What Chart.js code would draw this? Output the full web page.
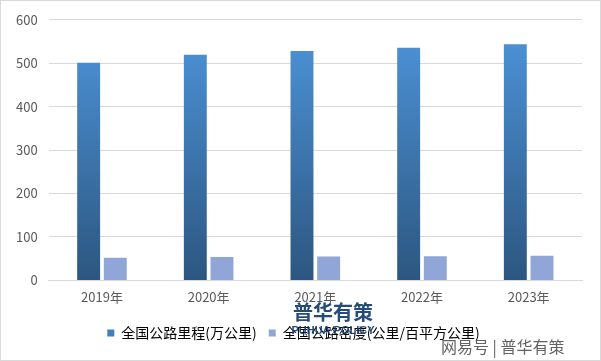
<!DOCTYPE html>
<html>
<head>
<meta charset="utf-8">
<script src="https://cdn.jsdelivr.net/npm/chart.js@4/dist/chart.umd.min.js"></script>
<style>
  html, body { margin: 0; padding: 0; background: #fff; }
  #wrap { width: 599px; height: 359px; border: 1px solid #d9d9d9; position: relative; }
</style>
</head>
<body>
<div id="wrap"><canvas id="roadChart" width="599" height="359"></canvas></div>
<script>
const years = ['2019年', '2020年', '2021年', '2022年', '2023年'];
const mileage = [501.25, 519.81, 528.07, 535.48, 543.68];
const density = [52.21, 54.15, 55.01, 55.78, 56.63];
const yTicks = [0, 100, 200, 300, 400, 500, 600];

const fontFamily = '"Noto Sans CJK SC", "Microsoft YaHei", sans-serif';

// watermark text drawn over the chart
const watermark = {
    id: 'watermark',
    afterDraw(chart) {
        const c = chart.ctx;
        c.save();
        c.textAlign = 'center';
        c.fillStyle = 'rgba(20, 60, 110, 0.92)';
        c.font = 'bold 20px ' + fontFamily;
        c.fillText('普华有策', 332, 311);
        c.font = 'bold 11px "Liberation Sans", sans-serif';
        c.fillText('PUHUA POLICY', 332, 330);
        c.textAlign = 'left';
        c.fillStyle = 'rgba(70, 70, 70, 0.85)';
        c.font = '16px ' + fontFamily;
        c.fillText('网易号 | 普华有策', 440, 346);
        c.restore();
    }
};

function darkGradient(context) {
    const area = context.chart.chartArea;
    if (!area) return '#3f7fc0';
    const g = context.chart.ctx.createLinearGradient(0, area.top, 0, area.bottom);
    g.addColorStop(0, '#4e96dc');
    g.addColorStop(1, '#2c5680');
    return g;
}

const ctx = document.getElementById('roadChart').getContext('2d');
new Chart(ctx, {
    type: 'bar',
    data: {
        labels: years,
        datasets: [{
            label: '全国公路里程(万公里)',
            data: mileage,
            backgroundColor: darkGradient,
            categoryPercentage: 0.5,
            barPercentage: 0.86
        }, {
            label: '全国公路密度(公里/百平方公里)',
            data: density,
            backgroundColor: '#8fa6d6',
            categoryPercentage: 0.5,
            barPercentage: 0.86
        }]
    },
    plugins: [watermark],
    options: {
        responsive: false,
        animation: false,
        layout: { padding: { left: 4, right: 18, top: 10, bottom: 10 } },
        plugins: {
            tooltip: { enabled: false },
            legend: {
                position: 'bottom',
                labels: {
                    boxWidth: 7,
                    boxHeight: 7,
                    color: '#595959',
                    font: { family: fontFamily, size: 14 },
                    padding: 12,
                    generateLabels(chart) {
                        return chart.data.datasets.map((ds, i) => ({
                            text: ds.label,
                            fillStyle: i === 0 ? '#3f7fc0' : '#8fa6d6',
                            strokeStyle: 'rgba(0,0,0,0)',
                            lineWidth: 0,
                            datasetIndex: i
                        }));
                    }
                }
            }
        },
        scales: {
            x: {
                grid: { display: false, drawTicks: false },
                border: { color: '#d9d9d9' },
                ticks: { color: '#595959', font: { family: fontFamily, size: 13 }, padding: 9 }
            },
            y: {
                min: 0,
                max: 600,
                afterBuildTicks(axis) { axis.ticks = yTicks.map(v => ({ value: v })); },
                grid: { color: '#d9d9d9', drawTicks: false },
                border: { display: false },
                ticks: { color: '#595959', font: { family: fontFamily, size: 13 }, padding: 11 }
            }
        }
    }
});
</script>
</body>
</html>
